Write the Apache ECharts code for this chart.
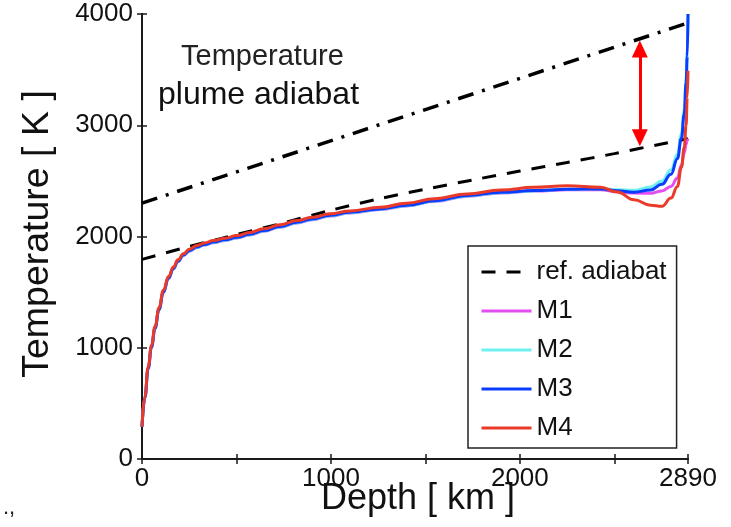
<!DOCTYPE html>
<html>
<head>
<meta charset="utf-8">
<script src="https://cdn.jsdelivr.net/npm/echarts@6/dist/echarts.min.js"></script>
<style>
html,body{margin:0;padding:0;background:#fff;}
#chart{width:731px;height:527px;}
</style>
</head>
<body>
<div id="chart"></div>
<script>
// ---- data ----
const depth = [0, 15, 33, 50, 69, 90, 113, 140, 166, 190, 219, 250, 290, 330, 378, 440, 502, 570, 643, 730, 820, 900, 996, 1100, 1261, 1400, 1550, 1721, 1900, 2074, 2251, 2427, 2516, 2604, 2692, 2752, 2800, 2834, 2855, 2870, 2880, 2886, 2890];
const tM1 = [290, 552, 818, 1007, 1177, 1346, 1500, 1622, 1708, 1773, 1828, 1868, 1900, 1923, 1944, 1964, 1987, 2014, 2047, 2084, 2122, 2151, 2184, 2211, 2242, 2274, 2316, 2362, 2392, 2408, 2420, 2420, 2402, 2390, 2388, 2410, 2450, 2525, 2640, 2750, 2830, 2862, 2880];
const tM2 = [290, 552, 818, 1007, 1177, 1346, 1500, 1623, 1710, 1775, 1830, 1870, 1902, 1925, 1946, 1966, 1989, 2016, 2049, 2086, 2124, 2153, 2186, 2213, 2244, 2276, 2318, 2364, 2394, 2410, 2424, 2430, 2420, 2415, 2445, 2500, 2600, 2740, 2920, 3140, 3420, 3650, 4000];
const tM3 = [290, 550, 815, 1005, 1175, 1345, 1500, 1625, 1712, 1778, 1833, 1873, 1905, 1928, 1950, 1970, 1993, 2020, 2053, 2090, 2128, 2157, 2190, 2217, 2248, 2280, 2322, 2368, 2398, 2413, 2425, 2428, 2412, 2398, 2418, 2470, 2560, 2700, 2880, 3100, 3380, 3620, 4000];
const tM4 = [290, 560, 830, 1020, 1190, 1360, 1516, 1640, 1725, 1790, 1845, 1885, 1919, 1942, 1964, 1985, 2009, 2035, 2069, 2105, 2143, 2172, 2204, 2230, 2262, 2300, 2340, 2383, 2418, 2442, 2457, 2442, 2400, 2330, 2282, 2272, 2345, 2450, 2620, 2800, 3000, 3250, 3490];
const refDepth = [0, 250, 500, 750, 1000, 1250, 1500, 1750, 2000, 2250, 2500, 2750, 2890];
const refTemp = [1794, 1910, 2017, 2123, 2236, 2337, 2425, 2508, 2588, 2665, 2745, 2832, 2879];
const plumeDepth = [0, 2890];
const plumeTemp = [2300, 3920];
const arrowDepth = 2635;
const arrowTemps = [2888, 3686];
const xLabelValues = [0, 1000, 2000, 2890];
const seriesNames = ['ref. adiabat', 'M1', 'M2', 'M3', 'M4'];
// ---------------

const FONT = '"Liberation Sans", Arial, Helvetica, sans-serif';
const pairs = (xs, ys) => xs.map((x, i) => [x, ys[i]]);

const chart = echarts.init(document.getElementById('chart'), null, {renderer: 'canvas'});

const axisLineStyle = {color: '#1a1a1a', width: 2};
const tickStyle = {color: '#1a1a1a', width: 1.5};
const curve = (name, data, color) => ({
  name, type: 'line', data, symbol: 'none', smooth: 0.45, smoothMonotone: 'x',
  lineStyle: {color, width: 3}, itemStyle: {color}, silent: true, z: 3
});

chart.setOption({
  animation: false,
  backgroundColor: '#fff',
  grid: {left: 142, right: 43, top: 14, bottom: 68, containLabel: false},
  xAxis: [{
    type: 'value', min: 0, max: 2890, interval: 500,
    axisLine: {lineStyle: axisLineStyle},
    axisTick: {inside: true, length: 5, lineStyle: tickStyle},
    splitLine: {show: false},
    axisLabel: {
      margin: 7, fontSize: 26, color: '#111', fontFamily: FONT,
      formatter: v => xLabelValues.indexOf(v) >= 0 ? String(v) : ''
    }
  }, {
    type: 'value', min: 0, max: 2890, interval: 500, position: 'top',
    axisLine: {lineStyle: axisLineStyle},
    axisTick: {inside: true, length: 5, lineStyle: tickStyle},
    splitLine: {show: false}, axisLabel: {show: false}
  }],
  yAxis: [{
    type: 'value', min: 0, max: 4000, interval: 1000,
    axisLine: {show: true, lineStyle: axisLineStyle},
    axisTick: {show: true, inside: true, length: 5, lineStyle: tickStyle},
    splitLine: {show: false},
    axisLabel: {margin: 9, fontSize: 26, color: '#111', fontFamily: FONT, formatter: v => String(v)}
  }, {
    type: 'value', min: 0, max: 4000, interval: 1000, position: 'right',
    axisLine: {show: true, lineStyle: axisLineStyle},
    axisTick: {show: true, inside: true, length: 5, lineStyle: tickStyle},
    splitLine: {show: false}, axisLabel: {show: false}
  }],
  legend: {
    data: seriesNames,
    orient: 'vertical', left: 468, top: 246,
    padding: [13, 10, 7, 12],
    itemWidth: 50, itemHeight: 14, itemGap: 13,
    itemStyle: {opacity: 0},
    lineStyle: {width: 3},
    borderColor: '#222', borderWidth: 1.5, backgroundColor: '#fff',
    textStyle: {fontSize: 26, lineHeight: 26, color: '#111', fontFamily: FONT},
    selectedMode: false
  },
  graphic: [
    {type: 'text', left: 181, top: 42, style: {text: 'Temperature', fill: '#222', font: '29px ' + FONT}},
    {type: 'text', left: 158, top: 79, style: {text: 'plume adiabat', fill: '#111', font: '32px ' + FONT}},
    {type: 'text', x: 38, y: 234, rotation: Math.PI / 2, style: {text: 'Temperature [ K ]', font: '37.5px ' + FONT, fill: '#111', textAlign: 'center', textVerticalAlign: 'middle'}},
    {type: 'text', x: 418, y: 499, style: {text: 'Depth [ km ]', font: '36px ' + FONT, fill: '#111', textAlign: 'center', textVerticalAlign: 'middle'}},
    {type: 'text', x: 3, y: 497, style: {text: '.,', font: '22px ' + FONT, fill: '#222'}}
  ],
  series: [
    {
      name: 'ref. adiabat', type: 'line', data: pairs(refDepth, refTemp), symbol: 'none', smooth: 0.3,
      lineStyle: {color: '#000', width: 3, type: [14, 11]}, itemStyle: {color: '#000'}, silent: true, z: 2
    },
    {
      name: 'plume adiabat', type: 'line', data: pairs(plumeDepth, plumeTemp), symbol: 'none',
      lineStyle: {color: '#000', width: 3.5, type: [16, 9, 3, 9]}, itemStyle: {color: '#000'}, silent: true, z: 2,
      markLine: {
        silent: true, symbol: ['triangle', 'triangle'], symbolSize: [16, 17],
        label: {show: false},
        lineStyle: {color: '#ff0000', width: 3, type: 'solid'},
        emphasis: {disabled: true},
        data: [[{coord: [arrowDepth, arrowTemps[0]]}, {coord: [arrowDepth, arrowTemps[1]]}]]
      }
    },
    curve('M1', pairs(depth, tM1), '#e34ef0'),
    curve('M2', pairs(depth, tM2), '#6ff0f0'),
    curve('M3', pairs(depth, tM3), '#0a3cff'),
    curve('M4', pairs(depth, tM4), '#ea3b2a')
  ]
});
</script>
</body>
</html>
